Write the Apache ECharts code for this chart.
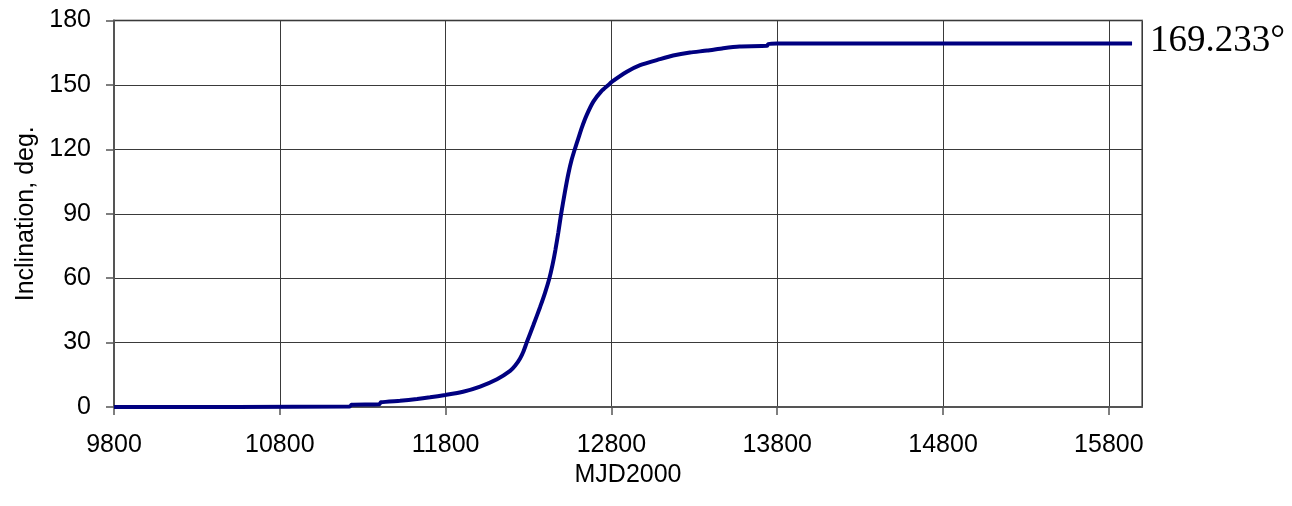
<!DOCTYPE html>
<html>
<head>
<meta charset="utf-8">
<script src="https://cdn.jsdelivr.net/npm/echarts@6/dist/echarts.min.js"></script>
<style>
  html, body { margin: 0; padding: 0; background: #fff; }
  #chart { width: 1292px; height: 506px; }
</style>
</head>
<body>
<div id="chart"></div>
<script>
// Orbit inclination versus time (MJD2000)
const mjd = [9800, 11220, 11232, 11400, 11410, 11525, 11628, 11706, 11798, 11905,
             12008, 12110, 12189, 12220, 12249, 12270, 12289, 12330, 12370, 12400,
             12426, 12445, 12462, 12480, 12496, 12518, 12540, 12560, 12581, 12600,
             12621, 12650, 12691, 12740, 12782, 12802, 12893, 12973, 13093, 13172,
             13274, 13377, 13474, 13573, 13739, 13745, 13800, 15940];
const inclination = [0, 0.2, 1.0, 1.3, 2.2, 2.9, 3.7, 4.5, 5.6, 7.1,
                     9.5, 12.9, 16.8, 19.3, 22.6, 26.0, 30.0, 38.3, 46.6, 53.3,
                     60.0, 66.3, 73.1, 81.4, 89.6, 99.5, 108.5, 115.1, 120.5, 125.0,
                     130.0, 135.8, 142.2, 147.1, 150.0, 151.4, 156.1, 159.2, 162.0, 163.7,
                     165.1, 166.0, 167.1, 167.9, 168.2, 169.0, 169.233, 169.233];

// Axis settings: x ticks every 1000 days starting at 9800
const xStart = 9800;
const xEnd = 16000;
const xStep = 1000;
const yTicks = [0, 30, 60, 90, 120, 150, 180];

const seriesData = mjd.map((d, i) => [d - xStart, inclination[i]]);

const chart = echarts.init(document.getElementById('chart'), null, { renderer: 'canvas' });
const font = 'Liberation Sans, Arial, sans-serif';

chart.setOption({
  animation: false,
  backgroundColor: '#ffffff',
  grid: {
    left: 114, top: 20.5, right: 150, bottom: 99,
    show: true, borderColor: '#8c8c8c', borderWidth: 2, backgroundColor: 'transparent'
  },
  xAxis: {
    type: 'value',
    min: 0, max: xEnd - xStart, interval: xStep,
    name: 'MJD2000', nameLocation: 'middle', nameGap: 44,
    nameTextStyle: { fontFamily: font, fontSize: 25, color: '#000' },
    axisLine: { show: true, lineStyle: { color: '#555', width: 2 } },
    axisTick: { show: true, length: 8, lineStyle: { color: '#555', width: 1.5 } },
    axisLabel: {
      margin: 26, fontFamily: font, fontSize: 25, color: '#000',
      formatter: v => String(v + xStart),
      showMaxLabel: false
    },
    splitLine: { show: true, lineStyle: { color: '#3a3a3a', width: 1 } }
  },
  yAxis: {
    type: 'value',
    min: yTicks[0], max: yTicks[yTicks.length - 1], interval: yTicks[1] - yTicks[0],
    name: 'Inclination, deg.', nameLocation: 'middle', nameGap: 73, nameRotate: 90,
    nameTextStyle: { fontFamily: font, fontSize: 25, color: '#000' },
    axisLine: { show: true, lineStyle: { color: '#555', width: 2 } },
    axisTick: { show: true, length: 8, lineStyle: { color: '#555', width: 1.5 } },
    axisLabel: { margin: 23, fontFamily: font, fontSize: 25, color: '#000' },
    splitLine: { show: true, lineStyle: { color: '#3a3a3a', width: 1 } }
  },
  series: [{
    type: 'line',
    data: seriesData,
    showSymbol: false,
    smooth: 0.2,
    lineStyle: { color: '#000080', width: 4 },
    clip: false,
    endLabel: {
      show: true,
      distance: 18,
      offset: [0, -2],
      formatter: p => p.value[1].toFixed(3) + '°',
      fontFamily: 'Liberation Serif, Times New Roman, serif',
      fontSize: 37,
      color: '#000'
    }
  }]
});
</script>
</body>
</html>
